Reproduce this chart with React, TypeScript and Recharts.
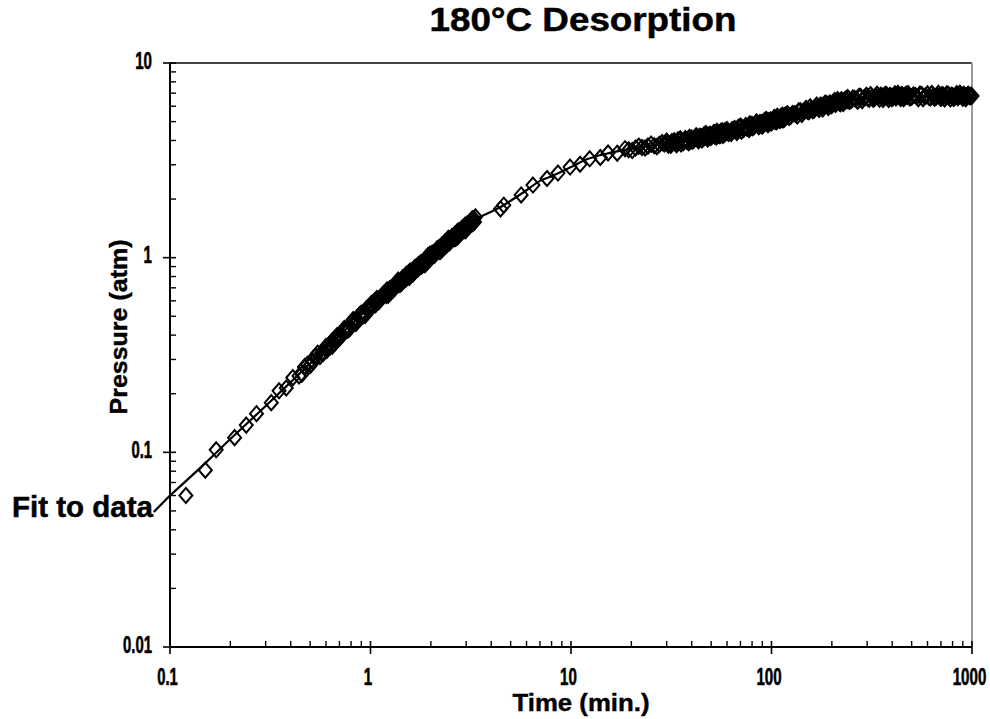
import React from 'react';
import { ComposedChart, XAxis, YAxis, Line, Scatter, ReferenceLine, Label } from 'recharts';

// ---- observed data (time in min., pressure in atm) ----
const timeEarly = [
  0.12, 0.15, 0.17, 0.21, 0.24, 0.27, 0.32, 0.35, 0.38, 0.41,
  0.44, 0.47, 0.50, 0.53, 0.56, 0.60, 0.63, 0.66, 0.70, 0.73,
  0.77, 0.80, 0.84, 0.88, 0.92, 0.96, 1.00, 1.05, 1.10, 1.15,
  1.20, 1.25, 1.30, 1.35, 1.40, 1.45, 1.50, 1.55, 1.60, 1.66,
  1.72, 1.78, 1.84, 1.90, 1.96, 2.02, 2.08, 2.14, 2.20, 2.27,
  2.34, 2.41, 2.48, 2.55, 2.62, 2.70, 2.78, 2.86, 2.94, 3.02,
  3.10, 3.18, 3.26, 3.34,
];
const pressureEarly = [
  0.060, 0.081, 0.103, 0.119, 0.138, 0.158, 0.180, 0.207, 0.214, 0.242,
  0.247, 0.276, 0.279, 0.310, 0.311, 0.350, 0.349, 0.383, 0.386, 0.423,
  0.424, 0.462, 0.461, 0.507, 0.503, 0.551, 0.546, 0.599, 0.593, 0.647,
  0.639, 0.695, 0.684, 0.743, 0.729, 0.790, 0.774, 0.836, 0.818, 0.888,
  0.871, 0.942, 0.922, 0.997, 0.974, 1.051, 1.025, 1.104, 1.075, 1.161,
  1.134, 1.223, 1.192, 1.284, 1.250, 1.349, 1.315, 1.417, 1.381, 1.485,
  1.445, 1.553, 1.508, 1.620,
];
const timeEarlyB = [
  0.455, 0.485, 0.515, 0.545, 0.58, 0.615, 0.645, 0.68, 0.715, 0.75,
  0.785, 0.82, 0.86, 0.90, 0.94, 0.98, 1.025, 1.075, 1.125, 1.175,
  1.225, 1.275, 1.325, 1.375, 1.425, 1.475, 1.525, 1.575, 1.63, 1.69,
  1.75, 1.81, 1.87, 1.93, 1.99, 2.05, 2.11, 2.17, 2.235, 2.305,
  2.375, 2.445, 2.515, 2.585, 2.66, 2.74, 2.82, 2.90, 2.98, 3.06,
  3.14, 3.22, 3.30,
];
const pressureEarlyB = [
  0.252, 0.283, 0.293, 0.323, 0.322, 0.353, 0.351, 0.397, 0.398, 0.426,
  0.430, 0.481, 0.479, 0.518, 0.505, 0.557, 0.561, 0.617, 0.618, 0.661,
  0.641, 0.696, 0.700, 0.767, 0.738, 0.792, 0.799, 0.854, 0.824, 0.899,
  0.895, 0.935, 0.920, 1.023, 0.990, 1.057, 1.058, 1.118, 1.078, 1.155,
  1.147, 1.256, 1.221, 1.285, 1.259, 1.374, 1.362, 1.431, 1.375, 1.478,
  1.470, 1.586, 1.526,
];
const timeEarlyC = [
  0.47, 0.505, 0.535, 0.57, 0.605, 0.64, 0.675, 0.71, 0.74, 0.78,
  0.81, 0.85, 0.89, 0.93, 0.97, 1.01, 1.06, 1.11, 1.16, 1.21,
  1.26, 1.31, 1.36, 1.41, 1.46, 1.51, 1.56, 1.615, 1.675, 1.735,
  1.795, 1.855, 1.915, 1.975, 2.035, 2.095, 2.155, 2.215, 2.285, 2.355,
  2.425, 2.495, 2.565, 2.64, 2.72, 2.80, 2.88, 2.96, 3.04, 3.12,
  3.20, 3.28,
];
const pressureEarlyC = [
  0.273, 0.283, 0.314, 0.323, 0.334, 0.371, 0.384, 0.392, 0.433, 0.436,
  0.461, 0.462, 0.513, 0.522, 0.536, 0.582, 0.574, 0.619, 0.633, 0.683,
  0.663, 0.721, 0.722, 0.756, 0.760, 0.822, 0.792, 0.858, 0.864, 0.922,
  0.903, 0.957, 0.950, 1.041, 1.016, 1.068, 1.078, 1.132, 1.106, 1.205,
  1.176, 1.248, 1.246, 1.323, 1.278, 1.364, 1.363, 1.467, 1.442, 1.505,
  1.485, 1.586,
];
const timeMid = [4.45, 4.62, 5.64, 6.46, 7.59, 8.61, 9.89, 11.1, 12.4, 14.0, 15.3, 17.0, 18.6, 19.4, 20.2, 21.0, 21.8, 22.6, 23.4, 24.2, 25.1, 26.0, 26.8, 27.6, 28.5, 29.2];
const pressureMid = [1.78, 1.86, 2.10, 2.36, 2.55, 2.72, 2.92, 3.02, 3.22, 3.27, 3.45, 3.44, 3.63, 3.58, 3.55, 3.66, 3.74, 3.68, 3.66, 3.74, 3.83, 3.76, 3.72, 3.82, 3.90, 3.84];

const timeLate1 = [30.0, 31.2, 32.4, 33.6, 34.8, 36.0, 37.2, 38.4, 39.6, 40.8, 42.0, 43.2, 44.4, 45.6, 46.8, 48.0, 49.2, 50.4, 51.6, 52.8, 54.0, 55.2, 56.4, 57.6, 58.8];
const pressureLate1 = [3.97, 3.82, 3.93, 3.80, 4.03, 3.95, 4.09, 3.93, 4.05, 4.00, 4.22, 3.99, 4.19, 4.12, 4.28, 4.07, 4.26, 4.20, 4.40, 4.29, 4.38, 4.23, 4.40, 4.34, 4.49];
const timeLate1B = [30.6, 31.8, 33.0, 34.2, 35.4, 36.6, 37.8, 39.0, 40.2, 41.4, 42.6, 43.8, 45.0, 46.2, 47.4, 48.6, 49.8, 51.0, 52.2, 53.4, 54.6, 55.8, 57.0, 58.2, 59.4];
const pressureLate1B = [3.78, 3.94, 3.89, 4.03, 3.84, 3.99, 3.96, 4.15, 3.96, 4.11, 4.10, 4.20, 4.02, 4.29, 4.17, 4.26, 4.14, 4.29, 4.21, 4.46, 4.28, 4.44, 4.24, 4.46, 4.39];
const timeLate1C = [30.3, 31.5, 32.7, 33.9, 35.1, 36.3, 37.5, 38.7, 39.9, 41.1, 42.3, 43.5, 44.7, 45.9, 47.1, 48.3, 49.5, 50.7, 51.9, 53.1, 54.3, 55.5, 56.7, 57.9, 59.1];
const pressureLate1C = [3.89, 3.78, 3.99, 3.90, 4.08, 3.90, 4.01, 3.89, 4.12, 4.06, 4.21, 4.03, 4.17, 4.11, 4.34, 4.09, 4.30, 4.24, 4.38, 4.17, 4.33, 4.27, 4.49, 4.28, 4.49];
const timeLate2 = [60.0, 62.4, 64.8, 67.2, 69.6, 72.0, 74.4, 76.8, 79.2, 81.6, 84.0, 86.4, 88.8, 91.2, 93.6, 96.0, 98.4, 100.8, 103.2, 105.6, 108.0, 110.4, 112.8, 115.2, 117.6];
const pressureLate2 = [4.55, 4.41, 4.54, 4.40, 4.67, 4.60, 4.78, 4.60, 4.75, 4.69, 4.97, 4.70, 4.93, 4.88, 5.06, 4.82, 5.06, 4.98, 5.24, 5.12, 5.24, 5.06, 5.28, 5.21, 5.41];
const timeLate2B = [61.2, 63.6, 66.0, 68.4, 70.8, 73.2, 75.6, 78.0, 80.4, 82.8, 85.2, 87.6, 90.0, 92.4, 94.8, 97.2, 99.6, 102.0, 104.4, 106.8, 109.2, 111.6, 114.0, 116.4, 118.8];
const pressureLate2B = [4.35, 4.54, 4.49, 4.67, 4.46, 4.65, 4.62, 4.87, 4.65, 4.82, 4.83, 4.95, 4.74, 5.07, 4.93, 5.06, 4.92, 5.10, 5.01, 5.33, 5.12, 5.32, 5.10, 5.36, 5.28];
const timeLate2C = [60.6, 63.0, 65.4, 67.8, 70.2, 72.6, 75.0, 77.4, 79.8, 82.2, 84.6, 87.0, 89.4, 91.8, 94.2, 96.6, 99.0, 101.4, 103.8, 106.2, 108.6, 111.0, 113.4, 115.8, 118.2];
const pressureLate2C = [4.47, 4.35, 4.61, 4.52, 4.74, 4.55, 4.68, 4.55, 4.83, 4.77, 4.95, 4.75, 4.92, 4.86, 5.13, 4.86, 5.10, 5.04, 5.22, 4.99, 5.18, 5.12, 5.39, 5.15, 5.40];
const timeLate3 = [120.0, 124.8, 129.6, 134.4, 139.2, 144.0, 148.8, 153.6, 158.4, 163.2, 168.0, 172.8, 177.6, 182.4, 187.2, 192.0, 196.8, 201.6, 206.4, 211.2, 216.0, 220.8, 225.6, 230.4, 235.2];
const pressureLate3 = [5.49, 5.33, 5.49, 5.35, 5.69, 5.62, 5.85, 5.62, 5.81, 5.74, 6.08, 5.77, 6.05, 5.97, 6.21, 5.91, 6.21, 6.12, 6.42, 6.26, 6.39, 6.17, 6.42, 6.32, 6.54];
const timeLate3B = [122.4, 127.2, 132.0, 136.8, 141.6, 146.4, 151.2, 156.0, 160.8, 165.6, 170.4, 175.2, 180.0, 184.8, 189.6, 194.4, 199.2, 204.0, 208.8, 213.6, 218.4, 223.2, 228.0, 232.8, 237.6];
const pressureLate3B = [5.25, 5.50, 5.46, 5.68, 5.44, 5.69, 5.65, 5.95, 5.68, 5.91, 5.90, 6.07, 5.81, 6.21, 6.05, 6.21, 6.03, 6.24, 6.13, 6.49, 6.24, 6.47, 6.19, 6.50, 6.40];
const timeLate4 = [240.0, 249.6, 259.2, 268.8, 278.4, 288.0, 297.6, 307.2, 316.8, 326.4, 336.0, 345.6, 355.2, 364.8, 374.4, 384.0, 393.6, 403.2, 412.8, 422.4, 432.0, 441.6, 451.2, 460.8, 470.4];
const pressureLate4 = [6.64, 6.42, 6.58, 6.36, 6.72, 6.59, 6.82, 6.51, 6.68, 6.57, 6.91, 6.51, 6.78, 6.66, 6.87, 6.50, 6.78, 6.64, 6.94, 6.74, 6.85, 6.58, 6.81, 6.69, 6.90];
const timeLate4B = [244.8, 254.4, 264.0, 273.6, 283.2, 292.8, 302.4, 312.0, 321.6, 331.2, 340.8, 350.4, 360.0, 369.6, 379.2, 388.8, 398.4, 408.0, 417.6, 427.2, 436.8, 446.4, 456.0, 465.6, 475.2];
const pressureLate4B = [6.35, 6.60, 6.51, 6.74, 6.41, 6.66, 6.57, 6.88, 6.52, 6.74, 6.69, 6.83, 6.50, 6.90, 6.68, 6.80, 6.56, 6.77, 6.62, 6.98, 6.68, 6.89, 6.56, 6.87, 6.73];
const timeLate5 = [480, 500, 520, 540, 560, 580, 600, 620, 640, 660, 680, 700, 720, 740, 760, 780, 800, 820, 840, 860, 880, 900, 920, 940, 960, 980, 1000];
const pressureLate5 = [6.96, 6.68, 6.81, 6.55, 6.89, 6.73, 6.94, 6.61, 6.77, 6.65, 6.98, 6.57, 6.83, 6.70, 6.91, 6.53, 6.80, 6.66, 6.96, 6.75, 6.86, 6.59, 6.82, 6.69, 6.90, 6.71, 6.76];
const timeLate5B = [490, 510, 530, 550, 570, 590, 610, 630, 650, 670, 690, 710, 730, 750, 770, 790, 810, 830, 850, 870, 890, 910, 930, 950, 970, 990];
const pressureLate5B = [6.62, 6.85, 6.72, 6.92, 6.56, 6.78, 6.67, 6.97, 6.60, 6.81, 6.75, 6.88, 6.54, 6.94, 6.71, 6.83, 6.58, 6.79, 6.63, 6.99, 6.69, 6.90, 6.56, 6.87, 6.73, 6.84];

// ---- fit curve ----
const fitTime = [0.1, 0.15, 0.2, 0.3, 0.5, 0.7, 1.0, 1.5, 2.0, 3.0, 3.4, 4.0, 4.5, 5.0, 6.0, 7.0, 8.0, 10, 12, 15, 20, 30, 50, 70, 100, 150, 200, 300, 500, 1000];
const fitPressure = [0.060, 0.088, 0.117, 0.173, 0.286, 0.398, 0.56, 0.79, 1.02, 1.45, 1.59, 1.72, 1.83, 1.96, 2.22, 2.48, 2.62, 2.92, 3.20, 3.42, 3.62, 3.87, 4.25, 4.60, 5.05, 5.72, 6.18, 6.66, 6.76, 6.76];
const fitTailTime = [0.083, 0.1];
const fitTailPressure = [0.0494, 0.060];

// ---- ticks ----
const xTicks = [0.1, 0.2, 0.3, 0.4, 0.5, 0.6, 0.7, 0.8, 0.9, 1, 2, 3, 4, 5, 6, 7, 8, 9, 10, 20, 30, 40, 50, 60, 70, 80, 90, 100, 200, 300, 400, 500, 600, 700, 800, 900, 1000];
const yTicks = [0.01, 0.02, 0.03, 0.04, 0.05, 0.06, 0.07, 0.08, 0.09, 0.1, 0.2, 0.3, 0.4, 0.5, 0.6, 0.7, 0.8, 0.9, 1, 2, 3, 4, 5, 6, 7, 8, 9, 10];
const xMajor = [0.1, 1, 10, 100, 1000];
const xLabels = ['0.1', '1', '10', '100', '1000'];
const yMajor = [0.01, 0.1, 1, 10];
const yLabels = ['0.01', '0.1', '1', '10'];

const title = '180°C Desorption';
const xTitle = 'Time (min.)';
const yTitle = 'Pressure (atm)';
const fitNote = 'Fit to data';

const pair = (ts: number[], ps: number[]) => ts.map((t, i) => ({ t, p: ps[i] }));
const obsData = [
  ...pair(timeEarly, pressureEarly),
  ...pair(timeEarlyB, pressureEarlyB),
  ...pair(timeEarlyC, pressureEarlyC),
  ...pair(timeMid, pressureMid),
  ...pair(timeLate1, pressureLate1),
  ...pair(timeLate1B, pressureLate1B),
  ...pair(timeLate1C, pressureLate1C),
  ...pair(timeLate2, pressureLate2),
  ...pair(timeLate2B, pressureLate2B),
  ...pair(timeLate2C, pressureLate2C),
  ...pair(timeLate3, pressureLate3),
  ...pair(timeLate3B, pressureLate3B),
  ...pair(timeLate4, pressureLate4),
  ...pair(timeLate4B, pressureLate4B),
  ...pair(timeLate5, pressureLate5),
  ...pair(timeLate5B, pressureLate5B),
];
const fitData = pair(fitTime, fitPressure);

const FONT = "'Liberation Sans', Arial, Helvetica, sans-serif";
const labelWidth = (s: string) => s.split('').reduce((w, c) => w + (c === '.' ? 3.8 : 8.4), 0);
const majorIndex = (v: number, majors: number[]) => majors.findIndex((m) => Math.abs(m - v) / m < 1e-6);

const XTick = (props: any) => {
  const { x, y, payload } = props;
  const idx = majorIndex(payload.value, xMajor);
  if (idx >= 0) {
    const lab = xLabels[idx];
    return (
      <g>
        <line x1={x} x2={x} y1={y - 6} y2={y + 7} stroke="#000" strokeWidth={1.6} />
        <text x={x - 2.5} y={y + 38} textAnchor="middle" fontFamily={FONT} fontWeight="bold" fontSize={23}
          textLength={labelWidth(lab)} lengthAdjust="spacingAndGlyphs" fill="#000" stroke="#000" strokeWidth={0.6}>{lab}</text>
      </g>
    );
  }
  return <line x1={x} x2={x} y1={y - 6} y2={y} stroke="#000" strokeWidth={1.4} />;
};

const YTick = (props: any) => {
  const { x, y, payload } = props;
  const idx = majorIndex(payload.value, yMajor);
  if (idx >= 0) {
    const lab = yLabels[idx];
    return (
      <g>
        <line x1={x - 7} x2={x + 6} y1={y} y2={y} stroke="#000" strokeWidth={1.6} />
        <text x={x - 18} y={y + 5.5} textAnchor="end" fontFamily={FONT} fontWeight="bold" fontSize={23}
          textLength={labelWidth(lab)} lengthAdjust="spacingAndGlyphs" fill="#000" stroke="#000" strokeWidth={0.6}>{lab}</text>
      </g>
    );
  }
  return <line x1={x} x2={x + 6} y1={y} y2={y} stroke="#000" strokeWidth={1.4} />;
};

const Diamond = (props: any) => {
  const { cx, cy } = props;
  if (cx == null || cy == null) return null;
  return (
    <polygon
      points={`${cx},${cy - 7.5} ${cx + 6.5},${cy} ${cx},${cy + 7.5} ${cx - 6.5},${cy}`}
      fill="none" stroke="#000" strokeWidth={2}
    />
  );
};

const XTitle = (props: any) => {
  const vb = props.viewBox || { x: 170, y: 647, width: 802, height: 50 };
  return (
    <text x={vb.x + vb.width / 2 + 10} y={vb.y + 64} textAnchor="middle" fontFamily={FONT} fontWeight="bold"
      fontSize={23} textLength={137} lengthAdjust="spacingAndGlyphs" fill="#000" stroke="#000" strokeWidth={0.4}>{xTitle}</text>
  );
};

const YTitle = (props: any) => {
  const vb = props.viewBox || { x: 110, y: 63, width: 60, height: 584 };
  const cx = vb.x + 17;
  const cy = vb.y + vb.height / 2 - 28;
  return (
    <text x={cx} y={cy} transform={`rotate(-90, ${cx}, ${cy})`} textAnchor="middle" fontFamily={FONT}
      fontWeight="bold" fontSize={23} textLength={175} lengthAdjust="spacingAndGlyphs" fill="#000" stroke="#000" strokeWidth={0.4}>{yTitle}</text>
  );
};

export default function App() {
  return (
    <div style={{ position: 'absolute', left: 0, top: 0, width: 990, height: 719, background: '#fff' }}>
      <ComposedChart width={990} height={719} margin={{ top: 63, right: 18, bottom: 22, left: 110 }}>
        <XAxis
          dataKey="t" type="number" scale="log" domain={[0.1, 1000]} ticks={xTicks} interval={0}
          tick={<XTick />} tickSize={0} tickMargin={0} tickLine={false} height={50}
          axisLine={{ stroke: '#000', strokeWidth: 2 }}
        >
          <Label content={<XTitle />} />
        </XAxis>
        <YAxis
          dataKey="p" type="number" scale="log" domain={[0.01, 10]} ticks={yTicks} interval={0}
          tick={<YTick />} tickSize={0} tickMargin={0} tickLine={false} width={60}
          axisLine={{ stroke: '#000', strokeWidth: 2 }}
        >
          <Label content={<YTitle />} />
        </YAxis>
        <ReferenceLine y={10} stroke="#444" strokeWidth={2} />
        <ReferenceLine x={1000} stroke="#999" strokeWidth={2} />
        <ReferenceLine
          segment={[{ x: fitTailTime[0], y: fitTailPressure[0] }, { x: fitTailTime[1], y: fitTailPressure[1] }]}
          ifOverflow="visible" stroke="#000" strokeWidth={2.2}
        />
        <Line data={fitData} dataKey="p" type="monotone" dot={false} stroke="#000" strokeWidth={2.2} isAnimationActive={false} />
        <Scatter data={obsData} dataKey="p" shape={Diamond} isAnimationActive={false} />
      </ComposedChart>
      <svg width={990} height={719} style={{ position: 'absolute', left: 0, top: 0, pointerEvents: 'none' }}>
        <text x={583} y={31} textAnchor="middle" fontFamily={FONT} fontWeight="bold" fontSize={33}
          textLength={307} lengthAdjust="spacingAndGlyphs" fill="#000" stroke="#000" strokeWidth={0.5}>{title}</text>
        <text x={12} y={517} textAnchor="start" fontFamily={FONT} fontWeight="bold" fontSize={30}
          textLength={141} lengthAdjust="spacingAndGlyphs" fill="#000" stroke="#000" strokeWidth={0.5}>{fitNote}</text>
      </svg>
    </div>
  );
}
